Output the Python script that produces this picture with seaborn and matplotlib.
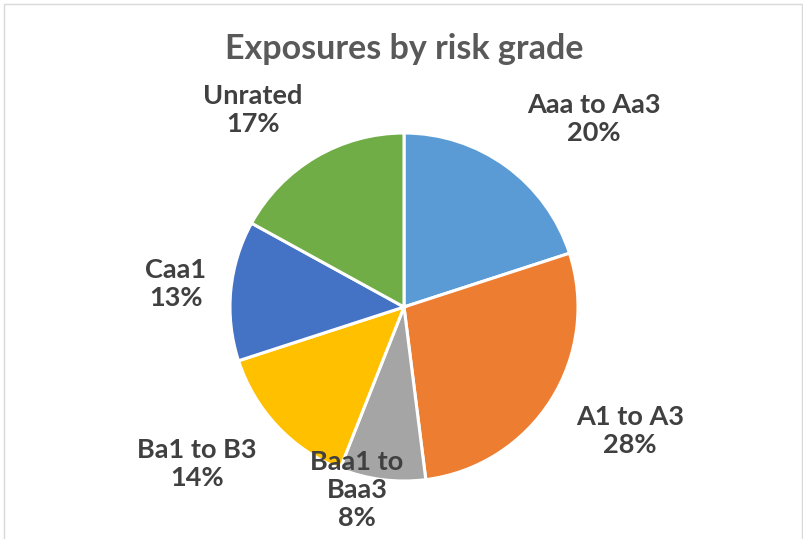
#!/usr/bin/env python3.12
# coding=utf-8

from matplotlib import pyplot as plt
from matplotlib.patches import Rectangle
import seaborn as sns

# Data
grades = ['Aaa to Aa3', 'A1 to A3', 'Baa1 to\nBaa3', 'Ba1 to B3', 'Caa1', 'Unrated']
shares = [20, 28, 8, 14, 13, 17]
colors = ['#5B9BD5', '#ED7D31', '#A5A5A5', '#FFC000', '#4472C4', '#70AD47']

# Label centres in units of the pie radius (Excel "best fit" placement)
label_pos = [(1.09, 1.08), (1.30, -0.71), (-0.27, -1.05),
             (-1.19, -0.90), (-1.31, 0.13), (-0.87, 1.13)]

sns.set_theme(style='white')
plt.rcParams['font.family'] = ['Lato', 'DejaVu Sans']

W, H = 804, 539
fig = plt.figure(figsize=(W / 100, H / 100), dpi=100)
fig.patch.set_facecolor('white')

# Axes covering the whole figure, one unit = pie radius, centre at (404, 307)
R, cx, cy = 174, 404, 307
ax = fig.add_axes([0, 0, 1, 1])
ax.pie(shares, colors=sns.color_palette(colors), startangle=90, counterclock=False,
       radius=1, wedgeprops=dict(edgecolor='white', linewidth=2.2))
ax.set_xlim(-cx / R, (W - cx) / R)
ax.set_ylim(-(H - cy) / R, cy / R)
ax.set_aspect('auto')
ax.axis('off')

# Labels: name + percentage
for name, val, (x, y) in zip(grades, shares, label_pos):
    ax.text(x, y, f'{name}\n{val}%', ha='center', va='center', fontsize=19.5,
            fontweight='bold', color='#404040', linespacing=1.2)

fig.text(cx / W, 1 - 49 / H, 'Exposures by risk grade', ha='center', va='center',
         fontsize=24.5, fontweight='bold', color='#595959')

# Light chart-area border
fig.patches.append(Rectangle((4 / W, -0.05), 798 / W, 1.05 - 4 / H,
                             transform=fig.transFigure, fill=False,
                             edgecolor='#D9D9D9', linewidth=1))

fig.savefig('out.png', dpi=100)
